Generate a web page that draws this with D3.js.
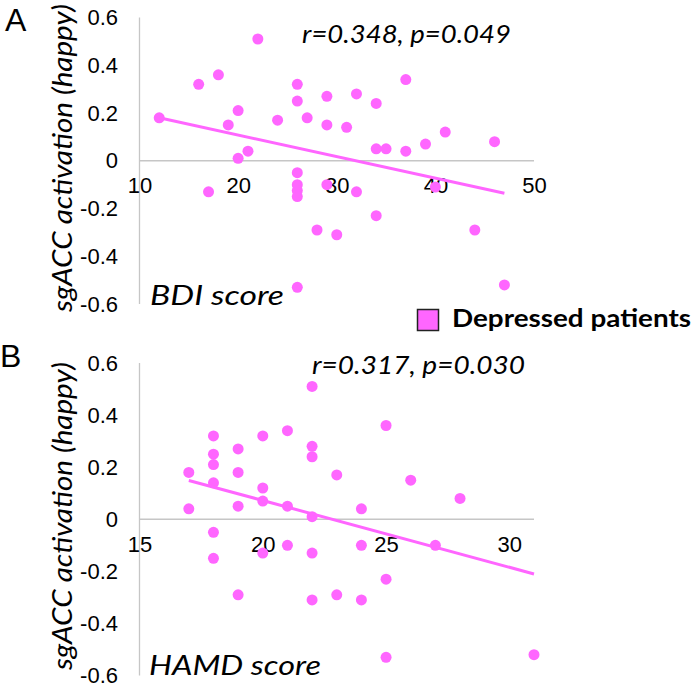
<!DOCTYPE html>
<html>
<head>
<meta charset="utf-8">
<script src="https://cdn.jsdelivr.net/npm/d3@7"></script>
<style>
  html, body { margin: 0; padding: 0; background: #fff; }
  svg { display: block; }
</style>
</head>
<body>
<svg id="chart" width="693" height="687"></svg>
<script>
// ---- Data ----
const yTicks = [-0.6, -0.4, -0.2, 0, 0.2, 0.4, 0.6];
const yTickLabels = ["-0.6", "-0.4", "-0.2", "0", "0.2", "0.4", "0.6"];

const bdiTicks = [10, 20, 30, 40, 50];
const bdiX = [12,16,18,22,19,20,20,21,17,24,26,26,27,29,29,31,32,34,34,35,37,37,39,41,46,26,26,26,26,29,32,34,28,30,44,26,47,40];
const bdiY = [0.18,0.32,0.36,0.51,0.15,0.21,0.01,0.04,-0.13,0.17,0.32,0.25,0.18,0.27,0.15,0.14,0.28,0.24,0.05,0.05,0.34,0.04,0.07,0.12,0.08,-0.05,-0.10,-0.125,-0.15,-0.10,-0.13,-0.23,-0.29,-0.31,-0.29,-0.53,-0.52,-0.11];
const bdiTrendX = [12, 47];
const bdiTrendY = [0.18, -0.136];

const hamdTicks = [15, 20, 25, 30];
const hamdX = [17,17,18,18,18,18,18,18,19,19,19,19,20,20,20,20,21,21,21,22,22,22,22,22,22,23,23,24,24,24,25,25,25,26,27,28,31];
const hamdY = [0.18,0.04,0.32,0.25,0.21,0.14,-0.05,-0.15,0.27,0.18,0.05,-0.29,0.32,0.12,0.07,-0.13,0.34,0.05,-0.10,0.51,0.28,0.24,0.01,-0.13,-0.31,0.17,-0.29,0.04,-0.10,-0.31,0.36,-0.23,-0.53,0.15,-0.10,0.08,-0.52];
const hamdTrendX = [17, 31];
const hamdTrendY = [0.149, -0.21];

const yLabel = "sgACC activation (happy)";
const legendLabel = "Depressed patients";

// ---- Style ----
const PINK = "#ff66ff";
const AXIS = "#c6c6c6";
const tickFont = "'Liberation Sans', Arial, sans-serif";
const textFont = "Lato, 'Open Sans', sans-serif";

const svg = d3.select("#chart");

function panel(cfg) {
  const x = d3.scaleLinear().domain(cfg.xDomain).range([139.5, 534]);
  const y = d3.scaleLinear().domain([-0.6, 0.6]).range([cfg.yBottom, cfg.yTop]);
  const g = svg.append("g");

  g.append("line")
    .attr("x1", x(cfg.xDomain[0])).attr("x2", x(cfg.xDomain[0]))
    .attr("y1", y(0.6)).attr("y2", y(-0.6))
    .attr("stroke", AXIS).attr("stroke-width", 1.3);
  g.append("line")
    .attr("x1", x(cfg.xDomain[0])).attr("x2", x(cfg.xDomain[1]))
    .attr("y1", y(0)).attr("y2", y(0))
    .attr("stroke", AXIS).attr("stroke-width", 1.3);

  const yAxis = d3.axisLeft(y).tickValues(yTicks)
    .tickFormat((d, i) => yTickLabels[i]).tickSize(0).tickPadding(0);
  const ya = g.append("g").attr("transform", "translate(118,0)").call(yAxis);
  ya.select(".domain").remove();
  ya.selectAll("text").attr("font-family", tickFont).attr("font-size", 22).attr("fill", "#000");

  const xAxis = d3.axisBottom(x).tickValues(cfg.ticks).tickFormat(d3.format("d"))
    .tickSize(0).tickPadding(0);
  const xa = g.append("g").attr("transform", `translate(0,${y(0) + 17})`).call(xAxis);
  xa.select(".domain").remove();
  xa.selectAll("text").attr("font-family", tickFont).attr("font-size", 22).attr("fill", "#000");

  g.append("g").selectAll("circle")
    .data(cfg.xs.map((v, i) => [v, cfg.ys[i]]))
    .join("circle")
    .attr("cx", d => x(d[0])).attr("cy", d => y(d[1]))
    .attr("r", 5.5).attr("fill", PINK);

  const line = d3.line().x(d => x(d[0])).y(d => y(d[1]));
  g.append("path")
    .datum(cfg.tx.map((v, i) => [v, cfg.ty[i]]))
    .attr("d", line).attr("fill", "none")
    .attr("stroke", PINK).attr("stroke-width", 3);

  g.append("text")
    .attr("transform", `translate(72,${cfg.yLabelCenter}) rotate(-90)`)
    .attr("text-anchor", "middle")
    .attr("font-family", textFont).attr("font-style", "italic")
    .attr("font-size", 27)
    .attr("textLength", 308).attr("lengthAdjust", "spacingAndGlyphs")
    .text(yLabel);

  g.append("text")
    .attr("x", cfg.statX).attr("y", cfg.statY)
    .attr("font-family", textFont).attr("font-style", "italic")
    .attr("font-size", 26)
    .attr("textLength", cfg.statW).attr("lengthAdjust", "spacingAndGlyphs")
    .text(cfg.stat);

  g.append("text")
    .attr("x", cfg.titleX).attr("y", cfg.titleY)
    .attr("font-family", textFont).attr("font-style", "italic")
    .attr("font-size", 27)
    .attr("textLength", cfg.titleW).attr("lengthAdjust", "spacingAndGlyphs")
    .text(cfg.title);

  g.append("text")
    .attr("x", cfg.letterX).attr("y", cfg.letterY)
    .attr("font-family", tickFont).attr("font-size", 32)
    .text(cfg.letter);
}

panel({
  xDomain: [10, 50], ticks: bdiTicks, yTop: 17.5, yBottom: 304,
  xs: bdiX, ys: bdiY, tx: bdiTrendX, ty: bdiTrendY,
  yLabelCenter: 158,
  stat: "r=0.348, p=0.049", statX: 302, statY: 43, statW: 209,
  title: "BDI score", titleX: 150, titleY: 305, titleW: 134,
  letter: "A", letterX: 5, letterY: 31
});

panel({
  xDomain: [15, 31], ticks: hamdTicks, yTop: 363, yBottom: 675.5,
  xs: hamdX, ys: hamdY, tx: hamdTrendX, ty: hamdTrendY,
  yLabelCenter: 516,
  stat: "r=0.317, p=0.030", statX: 312, statY: 374, statW: 213,
  title: "HAMD score", titleX: 149, titleY: 675, titleW: 172,
  letter: "B", letterX: 0, letterY: 367
});

svg.append("rect")
  .attr("x", 417.5).attr("y", 309.5).attr("width", 21).attr("height", 21)
  .attr("fill", PINK).attr("stroke", "#222").attr("stroke-width", 1.5);
svg.append("text")
  .attr("x", 452).attr("y", 327)
  .attr("font-family", textFont).attr("font-weight", "bold")
  .attr("font-size", 25)
  .attr("textLength", 239).attr("lengthAdjust", "spacingAndGlyphs")
  .text(legendLabel);
</script>
</body>
</html>
